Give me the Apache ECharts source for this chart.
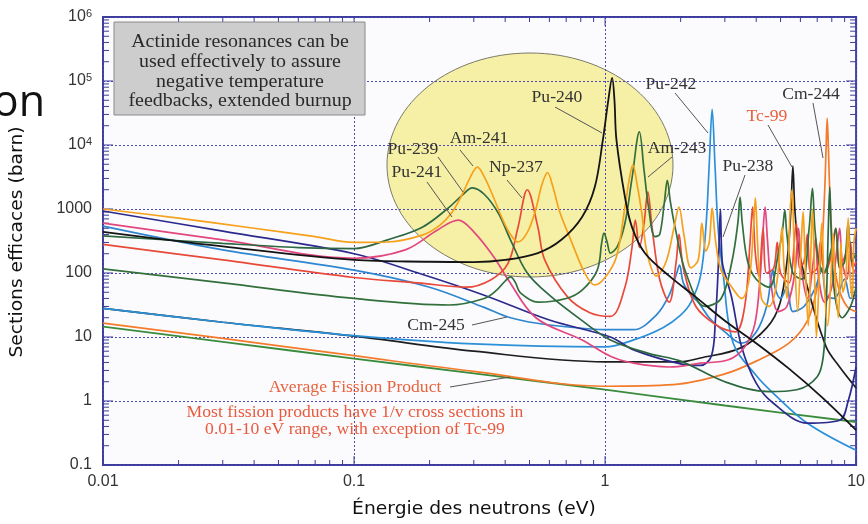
<!DOCTYPE html>
<html><head><meta charset="utf-8">
<script src="https://cdn.jsdelivr.net/npm/echarts@6/dist/echarts.min.js"></script>
<style>html,body{margin:0;padding:0;background:#fff}#c{width:868px;height:524px}</style>
</head><body><div id="c"></div>
<script>
// ---- axis ticks ----
const xTickLabels = ['0.01', '0.1', '1', '10'];
const yTickLabels = ['0.1', '1', '10', '100', '1000'];
const xMajor = [0.01, 0.1, 1, 10];
const yMajor = [0.1, 1, 10, 100, 1000, 1e4, 1e5, 1e6];
const minorMult = [2, 3, 4, 5, 6, 7, 8, 9];

// ---- series data [energy eV, cross section barn] ----
const avgFP = [[0.01,14.5],[0.03,8.4],[0.1,4.6],[0.3,2.7],[1,1.5],[3,0.85],[10,0.47]];
const cm244 = [[0.01,16.5],[0.03,9.5],[0.1,5.1],[0.3,2.9],[1,1.7],[1.87,1.8],[2.96,2.6],[4,4.2],[5.4,8],[6.4,18],[7.0,60],[7.3,250],[7.5,2000],[7.6,10000],[7.67,26000],[7.75,10000],[7.85,2000],[8.1,200],[8.5,60],[9.2,30],[10,25]];
const tc99 = [[0.01,28],[0.03,17],[0.1,10.3],[0.3,6],[1,4.1],[2,4.1],[2.4,4.7],[3.45,6.7],[4.41,14],[4.98,34],[5.35,205],[5.5,1000],[5.6,4700],[5.7,1000],[5.9,250],[6.4,60],[7.6,7],[8.6,3.4],[10,1.6]];
const pu242 = [[0.01,28],[0.03,17],[0.1,10.5],[0.3,7.8],[1,7],[1.3,9],[1.7,14],[2.0,22],[2.2,35],[2.4,90],[2.52,500],[2.6,5000],[2.67,36000],[2.74,5000],[2.82,500],[2.95,100],[3.24,8],[4.0,2.5],[4.67,1.33],[6.4,0.45],[10,0.17]];
const cm245 = [[0.01,540],[0.03,230],[0.1,111],[0.2,60],[0.33,29],[0.42,20],[0.6,15.4],[1.05,13],[1.3,13],[1.6,22],[1.8,45],[1.93,100],[1.98,133],[2.05,70],[2.2,45],[2.35,35],[2.6,20],[3.0,12],[3.5,8],[4.0,12],[4.4,30],[4.6,90],[4.67,110],[4.75,60],[5.0,40],[5.3,60],[5.6,25],[6.2,30],[6.9,60],[7.3,120],[7.6,45],[8.2,40],[9,80],[9.5,40],[10,50]];
const pu238 = [[0.01,930],[0.03,450],[0.1,200],[0.18,100],[0.33,45],[0.6,18.4],[1.05,10],[1.3,6.3],[2.0,3.8],[2.4,3.6],[2.65,5],[2.75,18],[2.83,150],[2.88,1000],[2.93,150],[3.05,80],[3.2,40],[3.5,7],[4,1.9],[4.67,0.93],[6.4,0.45],[8.6,0.5],[9.3,1.0],[10,3.4]];
const pu241 = [[0.01,600],[0.03,330],[0.1,170],[0.16,230],[0.215,470],[0.26,670],[0.3,440],[0.36,180],[0.41,80],[0.53,20],[0.81,9],[1.05,5],[1.3,3.9],[1.8,3.4],[2.4,3.9],[3.1,4.4],[3.6,7],[3.95,16],[4.15,90],[4.25,400],[4.34,1070],[4.43,350],[4.6,60],[4.9,25],[5.3,30],[5.7,100],[5.9,500],[6.05,120],[6.4,40],[6.75,150],[6.9,350],[7.05,100],[7.5,35],[8.0,60],[8.4,250],[8.6,500],[8.8,150],[9.2,80],[9.5,300],[9.7,120],[10,100]];
const np237 = [[0.01,280],[0.03,160],[0.1,85],[0.18,70],[0.28,60],[0.35,78],[0.41,140],[0.45,520],[0.49,2000],[0.54,520],[0.575,160],[0.71,42],[0.87,24],[1.05,21],[1.2,60],[1.28,250],[1.32,670],[1.37,250],[1.43,600],[1.48,1850],[1.54,500],[1.65,80],[1.8,35],[1.92,150],[1.97,400],[2.05,120],[2.3,30],[2.8,15],[3.3,12],[3.6,30],[3.78,300],[3.87,1070],[3.97,200],[4.1,90],[4.26,500],[4.4,100],[4.7,120],[4.85,300],[5.0,100],[5.4,70],[5.78,600],[5.95,120],[6.2,150],[6.4,400],[6.6,100],[7.0,120],[7.2,300],[7.5,100],[8.0,200],[8.3,500],[8.6,120],[9.1,200],[9.4,300],[9.7,120],[10,150]];
const am243 = [[0.01,116],[0.03,70],[0.1,40],[0.24,31.6],[0.33,40],[0.37,54],[0.4,75],[0.42,87],[0.44,70],[0.46,49],[0.54,35],[0.7,40],[0.81,54],[0.93,110],[0.97,300],[0.99,420],[1.02,300],[1.05,205],[1.12,260],[1.2,600],[1.28,3000],[1.37,16000],[1.43,4000],[1.49,1070],[1.58,370],[1.65,400],[1.72,1200],[1.77,2800],[1.82,1300],[1.9,520],[2.1,100],[2.5,30],[2.9,40],[3.2,150],[3.38,600],[3.45,1540],[3.52,600],[3.7,150],[4.0,80],[4.5,60],[4.9,200],[5.1,500],[5.2,960],[5.3,400],[5.6,100],[6.1,80],[6.5,500],[6.7,2100],[6.85,500],[7.1,150],[7.4,100],[8.0,250],[8.3,500],[8.6,120],[9.0,150],[9.3,600],[9.6,150],[10,200]];
const pu239 = [[0.01,380],[0.03,290],[0.06,250],[0.1,240],[0.136,330],[0.187,520],[0.237,1030],[0.27,1650],[0.296,2140],[0.33,1700],[0.375,870],[0.42,330],[0.49,100],[0.6,45],[0.81,18],[1.05,9],[1.5,5.5],[2,4.2],[3,2],[4.5,1.4],[5.8,1.5],[7,2.4],[7.4,5],[7.6,30],[7.75,500],[7.85,2200],[7.95,500],[8.2,50],[8.8,20],[9.5,30],[10,60]];
const am241 = [[0.01,1000],[0.02,720],[0.04,500],[0.07,370],[0.1,300],[0.136,305],[0.187,390],[0.22,560],[0.245,870],[0.27,1700],[0.29,3100],[0.31,4500],[0.33,3200],[0.36,1500],[0.39,700],[0.42,400],[0.45,305],[0.49,430],[0.53,1000],[0.56,2400],[0.59,3700],[0.62,2200],[0.66,900],[0.73,330],[0.83,100],[0.91,65],[1.0,85],[1.11,180],[1.2,1070],[1.25,3000],[1.29,4900],[1.34,2500],[1.4,870],[1.47,205],[1.6,90],[1.75,150],[1.88,500],[1.97,1070],[2.06,400],[2.2,120],[2.35,160],[2.43,600],[2.52,220],[2.6,300],[2.67,1030],[2.76,300],[2.9,110],[3.2,60],[3.5,40],[3.75,80],[3.9,500],[3.97,1500],[4.05,300],[4.2,40],[4.5,30],[4.8,60],[5.0,300],[5.07,520],[5.15,150],[5.3,40],[5.45,800],[5.56,2000],[5.66,300],[5.85,25],[6.05,300],[6.15,900],[6.25,200],[6.45,15],[6.6,200],[6.7,1000],[6.8,200],[6.95,10],[7.1,60],[7.3,600],[7.45,80],[7.7,15],[8.0,150],[8.1,400],[8.25,80],[8.5,20],[8.7,300],[8.85,50],[9.1,80],[9.3,720],[9.45,100],[9.65,40],[9.8,300],[10,500]];
const pu240 = [[0.01,440],[0.03,260],[0.1,160],[0.2,150],[0.3,148],[0.4,160],[0.54,205],[0.67,330],[0.81,750],[0.91,2200],[0.98,12000],[1.03,50000],[1.067,112000],[1.09,50000],[1.11,12000],[1.2,1540],[1.28,520],[1.44,205],[1.8,90],[2.3,42],[3.0,18],[4.0,8],[5.4,3.2],[7.3,1.15],[10,0.35]];

const FRAME = '#3c3c9c';
function line(name, data, color, w) {
  return { name: name, type: 'line', data: data, showSymbol: false, symbol: 'none',
    smooth: 0.35, lineStyle: { color: color, width: w || 1.7 }, itemStyle: { color: color },
    z: 5, silent: true, animation: false };
}

// tick items: [x, y, kind]  kind 0 x-minor, 1 y-minor, 2 x-major, 3 y-major
const tickItems = [];
[0.01, 0.1, 1].forEach(d => minorMult.forEach(m => tickItems.push([d * m, 1, 0])));
[0.1, 1, 10, 100, 1000, 1e4, 1e5].forEach(d => minorMult.forEach(m => tickItems.push([1, d * m, 1])));
xMajor.forEach(v => tickItems.push([v, 1, 2]));
yMajor.forEach(v => tickItems.push([1, v, 3]));

function renderTicks(params, api) {
  const kind = api.value(2);
  let segs;
  if (kind === 0 || kind === 2) {
    const v = api.value(0);
    const b = api.coord([v, 0.1]), t = api.coord([v, 1e6]);
    const L = kind === 0 ? 5 : 9;
    segs = [[b[0], b[1], b[0], b[1] - L], [t[0], t[1], t[0], t[1] + L]];
  } else {
    const v = api.value(1);
    const l = api.coord([0.01, v]), r = api.coord([10, v]);
    const L = kind === 1 ? 6 : 10;
    segs = [[l[0], l[1], l[0] + L, l[1]], [r[0], r[1], r[0] - L, r[1]]];
  }
  return { type: 'group', children: segs.map(s => ({ type: 'line',
    shape: { x1: s[0], y1: s[1], x2: s[2], y2: s[3] }, style: { stroke: FRAME, lineWidth: 1 } })) };
}

const serif = 'Liberation Serif, Times New Roman, serif';
function label(text, x, y, color) {
  return { type: 'text', x: x, y: y, scaleX: 1.1, z: 10,
    style: { text: text, font: '16px ' + serif, fill: color || '#333',
      textAlign: 'center', textVerticalAlign: 'middle', align: 'center', verticalAlign: 'middle' } };
}
function leader(x1, y1, x2, y2) {
  return { type: 'line', z: 10, shape: { x1: x1, y1: y1, x2: x2, y2: y2 }, style: { stroke: '#555', lineWidth: 1 } };
}
function boxText(text, y) {
  return { type: 'text', x: 240, y: y, z: 11, scaleX: 1.05,
    style: { text: text, font: '19px ' + serif, fill: '#2a2a2a',
      textAlign: 'center', textVerticalAlign: 'middle', align: 'center', verticalAlign: 'middle' } };
}

const chart = echarts.init(document.getElementById('c'), null, { renderer: 'canvas' });
chart.setOption({
  animation: false,
  backgroundColor: '#ffffff',
  grid: { left: 103, right: 11, top: 17, bottom: 59, show: true, backgroundColor: '#fbfbfe',
    borderColor: FRAME, borderWidth: 2, z: 0 },
  xAxis: { type: 'log', logBase: 10, min: 0.01, max: 10, z: 3,
    axisLine: { show: false }, axisTick: { show: false },
    splitLine: { show: true, lineStyle: { color: '#4a4ab0', type: [2, 2], width: 1 } },
    axisLabel: { margin: 9, color: '#333', fontFamily: 'Liberation Sans, Arial', fontSize: 16,
      formatter: v => xTickLabels[Math.round(Math.log10(v)) + 2] } },
  yAxis: { type: 'log', logBase: 10, min: 0.1, max: 1e6, z: 3,
    axisLine: { show: false }, axisTick: { show: false },
    splitLine: { show: true, lineStyle: { color: '#4a4ab0', type: [2, 2], width: 1 } },
    axisLabel: { margin: 11, color: '#333', fontFamily: 'Liberation Sans, Arial', fontSize: 16,
      formatter: v => { const e = Math.round(Math.log10(v));
        return e >= 4 ? '{b|10}{s|' + e + '}' : yTickLabels[e + 1]; },
      rich: { b: { fontSize: 16, fontFamily: 'Liberation Sans, Arial', color: '#333' },
              s: { fontSize: 11, fontFamily: 'Liberation Sans, Arial', color: '#333', verticalAlign: 'top', padding: [0, 0, 7, 0] } } } },
  series: [
    line('Average Fission Product', avgFP, '#3a8c3c', 1.8),
    line('Cm-244', cm244, '#f37b2a'),
    line('Tc-99', tc99, '#1e1e1e'),
    line('Pu-242', pu242, '#2a90d8'),
    line('Cm-245', cm245, '#2f86cf'),
    line('Pu-238', pu238, '#2c2a8c'),
    line('Pu-241', pu241, '#e2477e'),
    line('Np-237', np237, '#e84a3a'),
    line('Am-243', am243, '#336f3b'),
    line('Pu-239', pu239, '#2d6840'),
    line('Am-241', am241, '#f6a11c'),
    line('Pu-240', pu240, '#141414', 1.8),
    { type: 'custom', name: 'ticks', data: tickItems, encode: { x: 0, y: 1 },
      renderItem: renderTicks, z: 4, silent: true, clip: false, animation: false }
  ],
  graphic: { elements: [
    { type: 'ellipse', z: 1, shape: { cx: 530, cy: 165, rx: 143, ry: 112 },
      style: { fill: '#f6f0a6', stroke: '#7a7a6a', lineWidth: 1 } },
    { type: 'rect', z: 10, shape: { x: 114, y: 22, width: 251, height: 93 },
      style: { fill: '#cdcdcd', stroke: '#8a8a8a', lineWidth: 1 } },
    boxText('Actinide resonances can be', 42),
    boxText('used effectively to assure', 62),
    boxText('negative temperature', 82),
    boxText('feedbacks, extended burnup', 101),
    label('Pu-240', 557, 98), leader(555, 107, 602, 133),
    label('Pu-242', 671, 85), leader(675, 93, 708, 133),
    label('Cm-244', 811, 95), leader(813, 103, 823, 158),
    label('Tc-99', 767, 117, '#e8603c'), leader(768, 125, 792, 167),
    label('Am-243', 677, 149), leader(672, 157, 648, 177),
    label('Pu-238', 748, 167), leader(745, 175, 723, 237),
    label('Pu-239', 413, 150), leader(438, 157, 463, 192),
    label('Am-241', 479, 139), leader(460, 150, 473, 166),
    label('Np-237', 516, 168), leader(507, 180, 522, 198),
    label('Pu-241', 417, 173), leader(427, 182, 452, 217),
    label('Cm-245', 436, 326), leader(472, 325, 507, 317),
    label('Average Fission Product', 355, 388, '#e8643e'), leader(450, 387, 510, 377),
    label('Most fission products have 1/v cross sections in', 355, 413, '#e85a3c'),
    label('0.01-10 eV range, with exception of Tc-99', 355, 430, '#e85a3c'),
    { type: 'text', x: 18, y: 242, rotation: Math.PI / 2, scaleX: 1.1, z: 10,
      style: { text: 'Sections efficaces (barn)', font: '17px DejaVu Sans, sans-serif', fill: '#111',
        textAlign: 'center', textVerticalAlign: 'middle', align: 'center', verticalAlign: 'middle' } },
    { type: 'text', x: 474, y: 510, scaleX: 1.1, z: 10,
      style: { text: 'Énergie des neutrons (eV)', font: '17px DejaVu Sans, sans-serif', fill: '#111',
        textAlign: 'center', textVerticalAlign: 'middle', align: 'center', verticalAlign: 'middle' } },
    { type: 'text', x: 45, y: 104, z: 10,
      style: { text: 'on', font: '43px Open Sans, sans-serif', fill: '#111',
        textAlign: 'right', textVerticalAlign: 'middle', align: 'right', verticalAlign: 'middle' } }
  ] }
});
</script>
</body></html>
